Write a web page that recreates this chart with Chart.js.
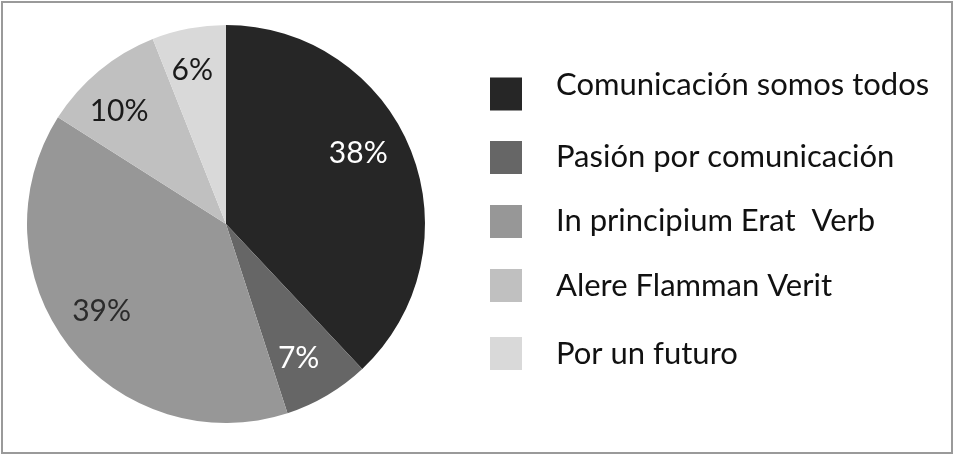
<!DOCTYPE html>
<html>
<head>
<meta charset="utf-8">
<script src="https://cdn.jsdelivr.net/npm/chart.js@4/dist/chart.umd.min.js"></script>
<style>
  html, body { margin: 0; padding: 0; background: #fff; }
  #wrap { width: 955px; height: 457px; }
</style>
</head>
<body>
<div id="wrap"><canvas id="pieChart" width="955" height="457"></canvas></div>
<script>
const categories = [
  "Comunicación somos todos",
  "Pasión por comunicación",
  "In principium Erat  Verb",
  "Alere Flamman Verit",
  "Por un futuro"
];
const shares = [38, 7, 39, 10, 6];
const sliceColors = ["#262626", "#666666", "#979797", "#c0c0c0", "#d9d9d9"];
const labelColors = ["#ffffff", "#ffffff", "#2b2b2b", "#1a1a1a", "#1a1a1a"];

const FONT = "Lato, 'Open Sans', sans-serif";

// frame around the whole picture
const framePlugin = {
  id: "frame",
  beforeDraw(chart) {
    const ctx = chart.ctx;
    ctx.save();
    ctx.fillStyle = "#fff";
    ctx.fillRect(0, 0, chart.width, chart.height);
    ctx.strokeStyle = "#9a9a9a";
    ctx.lineWidth = 2;
    ctx.strokeRect(2, 2, chart.width - 5, chart.height - 6);
    ctx.restore();
  }
};

// percentage text inside each slice (small nudge off the mid angle, in degrees)
const labelNudge = [-7, 2, 3, -3.5, -1.5];
const labelRadius = [0.757, 0.763, 0.761, 0.786, 0.797];
const sliceLabels = {
  id: "sliceLabels",
  afterDatasetsDraw(chart) {
    const ctx = chart.ctx;
    const meta = chart.getDatasetMeta(0);
    ctx.save();
    ctx.font = "30px " + FONT;
    ctx.textAlign = "center";
    ctx.textBaseline = "alphabetic";
    meta.data.forEach((arc, i) => {
      const p = arc.getProps(["x", "y", "startAngle", "endAngle", "outerRadius"]);
      const mid = (p.startAngle + p.endAngle) / 2 + labelNudge[i] * Math.PI / 180;
      const r = p.outerRadius * labelRadius[i];
      ctx.fillStyle = labelColors[i];
      ctx.fillText(shares[i] + "%", p.x + Math.cos(mid) * r, p.y + Math.sin(mid) * r + 11);
    });
    ctx.restore();
  }
};

// legend on the right
const boxY = [94, 157.5, 221.5, 285.5, 353.5];
const textY = [84, 155.5, 220, 285, 353];
const sideLegend = {
  id: "sideLegend",
  afterDraw(chart) {
    const ctx = chart.ctx;
    ctx.save();
    ctx.font = "31px " + FONT;
    ctx.textBaseline = "alphabetic";
    chart.data.labels.forEach((label, i) => {
      ctx.fillStyle = chart.data.datasets[0].backgroundColor[i];
      ctx.fillRect(490, boxY[i] - 16.5, 32, 33);
      ctx.fillStyle = "#111";
      ctx.fillText(label, 556, textY[i] + 11);
    });
    ctx.restore();
  }
};

const ctx = document.getElementById("pieChart").getContext("2d");
new Chart(ctx, {
  type: "pie",
  data: {
    labels: categories,
    datasets: [{
      data: shares,
      backgroundColor: sliceColors,
      borderWidth: 0
    }]
  },
  options: {
    responsive: false,
    animation: false,
    layout: { padding: { left: 27, right: 530, top: 25, bottom: 34 } },
    plugins: {
      legend: { display: false },
      tooltip: { enabled: false }
    }
  },
  plugins: [framePlugin, sliceLabels, sideLegend]
});
</script>
</body>
</html>
